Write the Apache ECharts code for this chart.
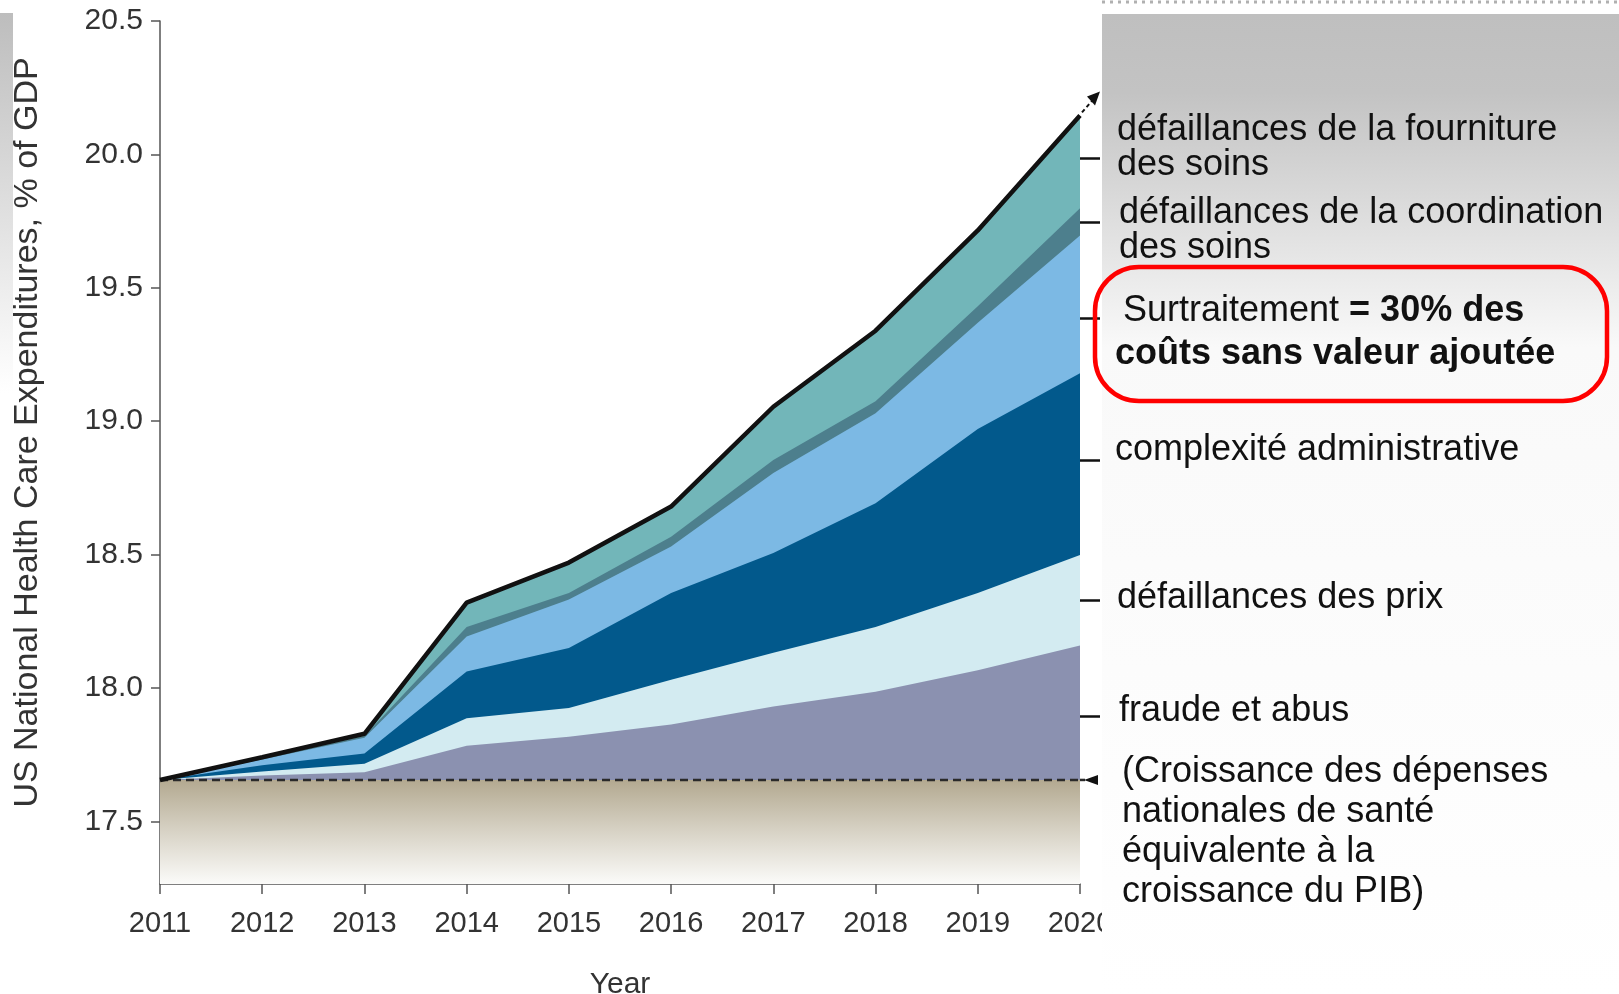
<!DOCTYPE html>
<html>
<head>
<meta charset="utf-8">
<script src="https://cdn.jsdelivr.net/npm/echarts@6/dist/echarts.min.js"></script>
<style>
    html, body { margin: 0; padding: 0; background: #fff; }
    #chart { width: 1619px; height: 994px; }
</style>
</head>
<body>
<div id="chart"></div>
<script type="text/javascript">

    // years on the x axis
    var years = ['2011', '2012', '2013', '2014', '2015', '2016', '2017', '2018', '2019', '2020'];
    var yTicks = [17.5, 18.0, 18.5, 19.0, 19.5, 20.0, 20.5];

    // top edge of each layer, % of GDP (layers drawn over each other)
    var gdpGrowth   = [17.655, 17.655, 17.655, 17.655, 17.655, 17.655, 17.655, 17.655, 17.655, 17.655];
    var fraudeTop   = [17.655, 17.672, 17.684, 17.783, 17.817, 17.863, 17.930, 17.986, 18.066, 18.159];
    var prixTop     = [17.655, 17.687, 17.716, 17.886, 17.925, 18.031, 18.132, 18.228, 18.356, 18.498];
    var adminTop    = [17.655, 17.710, 17.754, 18.062, 18.150, 18.356, 18.506, 18.692, 18.971, 19.180];
    var surtraitTop = [17.655, 17.732, 17.813, 18.193, 18.331, 18.530, 18.806, 19.030, 19.369, 19.696];
    var coordTop    = [17.655, 17.736, 17.820, 18.228, 18.356, 18.567, 18.854, 19.075, 19.431, 19.798];
    var totalTop    = [17.655, 17.740, 17.828, 18.320, 18.470, 18.680, 19.054, 19.339, 19.715, 20.146];

    // short marks on the right side, next to each label
    var labelTicks = [17.894, 18.327, 18.852, 19.386, 19.745, 19.984];

    var FONT = "'Liberation Sans', Arial, sans-serif";
    var AXIS_COLOR = '#555';
    var TEXT_GREY = '#333';

    function layer(name, data, color) {
        return {
            name: name,
            type: 'line',
            data: data,
            symbol: 'none',
            silent: true,
            lineStyle: { width: 0, opacity: 0 },
            areaStyle: { color: color, opacity: 1, origin: 'start' }
        };
    }

    var chart = echarts.init(document.getElementById('chart'), null, { renderer: 'canvas' });

    chart.setOption({
        animation: false,
        backgroundColor: '#fff',
        grid: { left: 160, right: 539, top: 21, bottom: 110, containLabel: false, outerBoundsMode: 'none' },
        xAxis: {
            type: 'category',
            data: years,
            boundaryGap: false,
            name: 'Year',
            nameLocation: 'middle',
            nameGap: 86,
            nameTextStyle: { fontFamily: FONT, fontSize: 30, color: TEXT_GREY },
            axisLine: { lineStyle: { color: AXIS_COLOR, width: 1.5 } },
            axisTick: { length: 10, lineStyle: { color: AXIS_COLOR, width: 1.5 } },
            axisLabel: { interval: 0, margin: 25, fontFamily: FONT, fontSize: 29, color: TEXT_GREY }
        },
        yAxis: [{
            type: 'value',
            min: 17.265,
            max: 20.5,
            name: 'US National Health Care Expenditures, % of GDP',
            nameLocation: 'middle',
            nameRotate: 90,
            nameGap: 115,
            nameTextStyle: { fontFamily: FONT, fontSize: 34, color: TEXT_GREY, padding: [0, 0, 0, 40] },
            axisLine: { show: true, lineStyle: { color: AXIS_COLOR, width: 1.5 } },
            axisTick: { show: true, length: 9, customValues: yTicks, lineStyle: { color: AXIS_COLOR, width: 1.5 } },
            axisLabel: {
                customValues: yTicks,
                margin: 17,
                fontFamily: FONT,
                fontSize: 30,
                color: TEXT_GREY,
                formatter: function (v) { return v.toFixed(1); }
            },
            splitLine: { show: false }
        }, {
            type: 'value',
            position: 'right',
            min: 17.265,
            max: 20.5,
            axisLine: { show: false },
            axisTick: { show: true, length: 20, customValues: labelTicks, lineStyle: { color: '#111', width: 2.5 } },
            axisLabel: { show: false },
            splitLine: { show: false }
        }],
        series: [
            layer('défaillances de la fourniture des soins', totalTop, '#72b6b9'),
            layer('défaillances de la coordination des soins', coordTop, '#4d7f8d'),
            layer('Surtraitement', surtraitTop, '#7cb9e4'),
            layer('complexité administrative', adminTop, '#02598c'),
            layer('défaillances des prix', prixTop, '#d3ebf1'),
            layer('fraude et abus', fraudeTop, '#8b91b0'),
            {
                name: 'croissance du PIB',
                type: 'line',
                data: gdpGrowth,
                symbol: 'none',
                silent: true,
                lineStyle: { color: '#2a2a2a', width: 2.5, type: [8, 5] },
                areaStyle: {
                    origin: 'start',
                    opacity: 1,
                    color: new echarts.graphic.LinearGradient(0, 0, 0, 1, [
                        { offset: 0, color: '#b3a990' },
                        { offset: 0.5, color: '#d8d3c6' },
                        { offset: 1, color: '#fbfbf9' }
                    ])
                }
            },
            {
                name: 'total',
                type: 'line',
                data: totalTop,
                symbol: 'none',
                silent: true,
                lineStyle: { color: '#111', width: 4.5 }
            }
        ]
    });

    // annotations: right panel, labels, red box, arrows
    var last = years.length - 1;
    var topEnd = chart.convertToPixel({ gridIndex: 0 }, [last, totalTop[last]]);
    var baseEnd = chart.convertToPixel({ gridIndex: 0 }, [last, gdpGrowth[last]]);
    var tip = [topEnd[0] + 20, topEnd[1] - 24];

    function note(text, x, y, bold) {
        return {
            type: 'text', x: x, y: y + 3, z: 110,
            style: {
                text: text, fill: '#111',
                font: (bold ? 'bold ' : '') + '36px ' + FONT,
                align: 'left', textAlign: 'left', verticalAlign: 'middle', textVerticalAlign: 'middle'
            }
        };
    }

    chart.setOption({
        graphic: [
            {
                type: 'rect', z: 100,
                shape: { x: 1102, y: 14, width: 517, height: 980 },
                style: {
                    fill: new echarts.graphic.LinearGradient(0, 0, 0, 1, [
                        { offset: 0, color: '#bfbfbf' },
                        { offset: 0.08, color: '#c3c3c3' },
                        { offset: 0.34, color: '#f9f9f9' },
                        { offset: 1, color: '#ffffff' }
                    ])
                }
            },
            {
                type: 'line', z: 100,
                shape: { x1: 1102, y1: 2, x2: 1619, y2: 2 },
                style: { stroke: '#b0b0b0', lineWidth: 3, lineDash: [3, 5] }
            },
            {
                type: 'rect', z: 100,
                shape: { x: 0, y: 13, width: 13, height: 380 },
                style: {
                    fill: new echarts.graphic.LinearGradient(0, 0, 0, 1, [
                        { offset: 0, color: '#bdbdbd' },
                        { offset: 1, color: '#ffffff' }
                    ])
                }
            },
            {
                type: 'line', z: 105,
                shape: { x1: topEnd[0] + 2, y1: topEnd[1] - 3, x2: tip[0] - 6, y2: tip[1] + 7 },
                style: { stroke: '#111', lineWidth: 2, lineDash: [4, 3] }
            },
            {
                type: 'polygon', z: 105,
                shape: { points: [[tip[0], tip[1]], [tip[0] - 13, tip[1] + 5], [tip[0] - 5, tip[1] + 14]] },
                style: { fill: '#111' }
            },
            {
                type: 'line', z: 105,
                shape: { x1: baseEnd[0], y1: baseEnd[1], x2: baseEnd[0] + 5, y2: baseEnd[1] },
                style: { stroke: '#2a2a2a', lineWidth: 2.5 }
            },
            {
                type: 'polygon', z: 105,
                shape: { points: [[baseEnd[0] + 4, baseEnd[1]], [baseEnd[0] + 18, baseEnd[1] - 5], [baseEnd[0] + 18, baseEnd[1] + 5]] },
                style: { fill: '#111' }
            },
            note('défaillances de la fourniture', 1117, 127),
            note('des soins', 1117, 162),
            note('défaillances de la coordination', 1119, 210),
            note('des soins', 1119, 245),
            {
                type: 'text', x: 1123, y: 311, z: 110,
                style: {
                    text: '{r|Surtraitement }{b|= 30% des}',
                    fill: '#111',
                    align: 'left', textAlign: 'left', verticalAlign: 'middle', textVerticalAlign: 'middle',
                    rich: {
                        r: { fontFamily: FONT, fontSize: 36, fill: '#111', color: '#111' },
                        b: { fontFamily: FONT, fontSize: 36, fontWeight: 'bold', fill: '#111', color: '#111' }
                    }
                }
            },
            note('coûts sans valeur ajoutée', 1115, 351, true),
            {
                type: 'rect', z: 108,
                shape: { x: 1095, y: 267, width: 512, height: 134, r: 44 },
                style: { fill: 'none', stroke: '#ff0000', lineWidth: 4.5 }
            },
            note('complexité administrative', 1115, 447),
            note('défaillances des prix', 1117, 595),
            note('fraude et abus', 1119, 708),
            note('(Croissance des dépenses', 1122, 769),
            note('nationales de santé', 1122, 809),
            note('équivalente à la', 1122, 849),
            note('croissance du PIB)', 1122, 889)
        ]
    });

</script>
</body>
</html>
